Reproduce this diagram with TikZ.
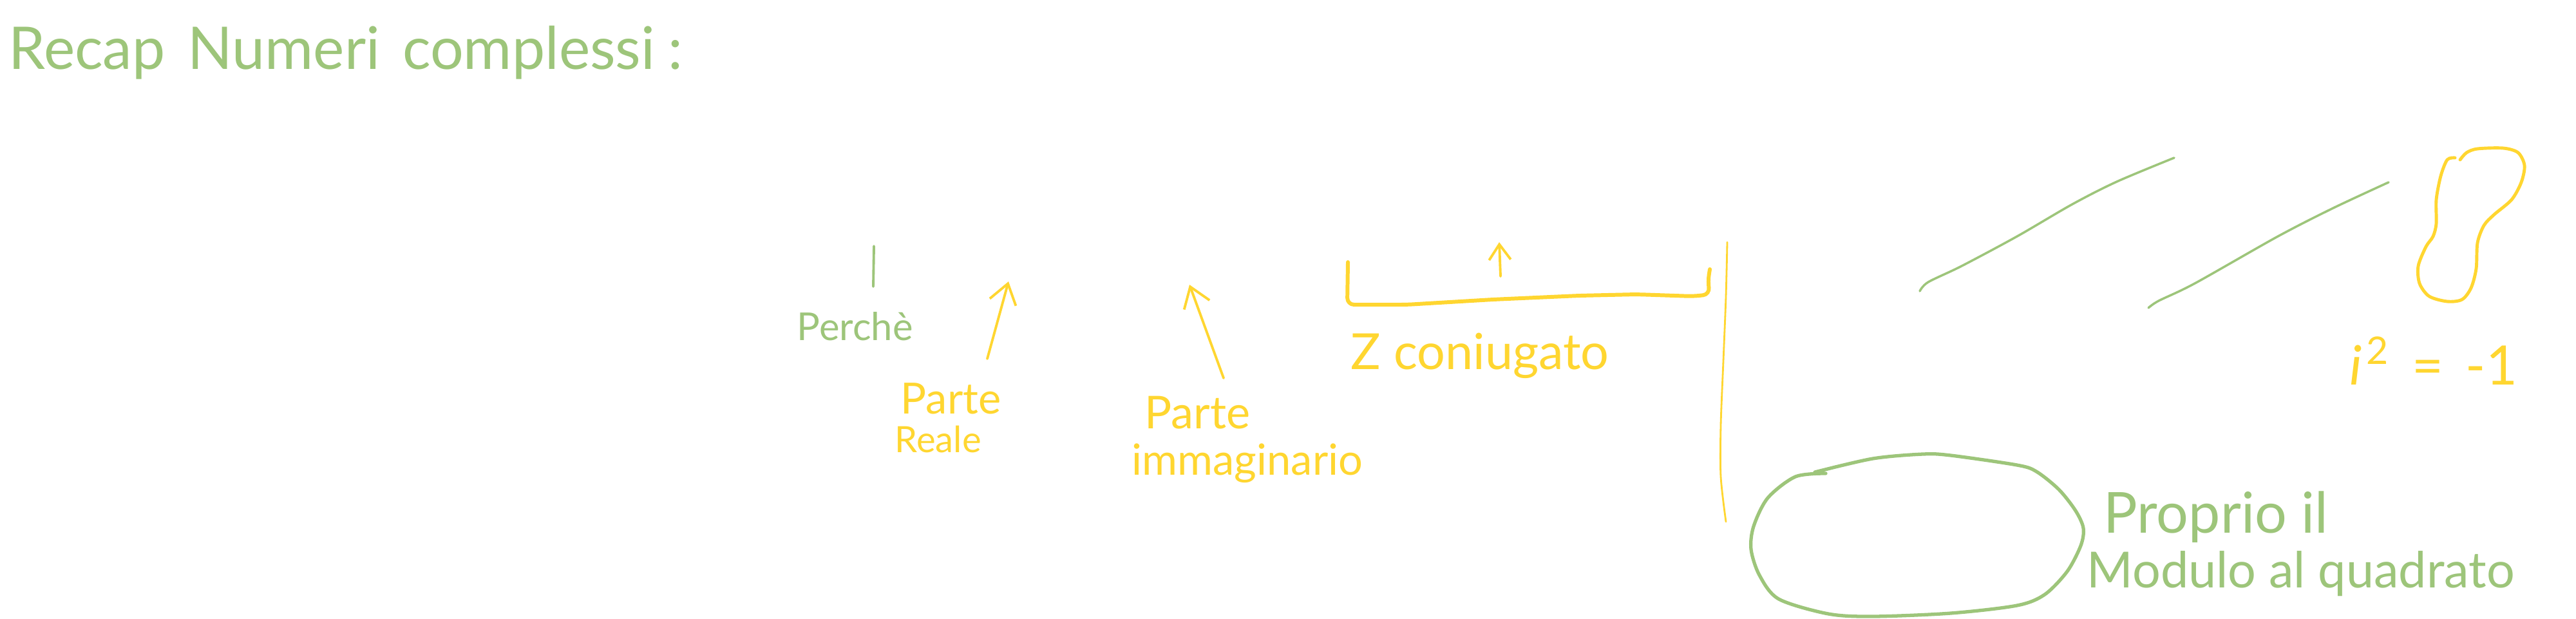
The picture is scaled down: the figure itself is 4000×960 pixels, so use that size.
\documentclass[tikz,border=0pt]{standalone}
\usepackage{fontspec}
\setmainfont{Lato}
\usetikzlibrary{arrows.meta}
\definecolor{pengreen}{RGB}{157,197,122}
\definecolor{penyellow}{RGB}{255,214,48}

\begin{document}
\begin{tikzpicture}[
  x=0.1mm,y=-0.1mm,
  hw/.style={font=\fontsize{#1}{#1}\selectfont,inner sep=0pt,anchor=base west},
  grn/.style={text=pengreen},
  ylw/.style={text=penyellow},
  ink/.style={line width=#1,line cap=round,line join=round},
  yarr/.style={draw=penyellow,line width=1.1pt,line cap=round,
    -{Straight Barb[length=#1,width=1.4*#1]}}
]
\useasboundingbox[fill=white] (0,0) rectangle (4000,960);

% ================= title =================
\node[hw=26,grn] (title) at (13,107)
  {Recap\hspace{3.5mm}Numeri\hspace{3.5mm}complessi\hspace{2mm}:};

% ================= why / real and imaginary parts =================
\draw[pengreen,ink=1.1pt] (1357,382) -- (1356,445);
\node[hw=17,grn] (perche) at (1237,528) {Perchè};

\node[hw=19,ylw] (parteRe) at (1398,642) {Parte};
\node[hw=16,ylw] (reale)   at (1389,702) {Reale};
\coordinate (reTail) at (1533,557);
\coordinate (reTip)  at (1566,437);
\draw[yarr=3mm] (reTail) -- (reTip);

\node[hw=20,ylw] (parteIm) at (1777,665) {Parte};
\node[hw=19,ylw] (immag)   at (1757,737) {immaginario};
\coordinate (imTail) at (1900,587);
\coordinate (imTip)  at (1847,442);
\draw[yarr=3mm] (imTail) -- (imTip);

% ================= conjugate =================
\draw[penyellow,ink=1.7pt,rounded corners=3pt]
  (2093,407) -- (2092,473) -- (2184,473) -- (2318,465) -- (2452,459)
  -- (2541,457) -- (2630,460) -- (2655,457) -- (2652,437) -- (2655,418);
\coordinate (cjTail) at (2330,429);
\coordinate (cjTip)  at (2328,376);
\draw[yarr=2.4mm] (cjTail) -- (cjTip);
\node[hw=22,ylw] (zconj) at (2097,573) {Z\hspace{2mm}coniugato};

\draw[penyellow,ink=0.8pt] plot[smooth] coordinates
  {(2682,376) (2680,460) (2676,560) (2672,660) (2672,740) (2680,810)};

% ================= strokes on the right =================
\draw[pengreen,ink=1pt] plot[smooth] coordinates
  {(2981,452) (2994,438) (3046,413) (3132,367) (3218,317) (3287,282) (3376,245)};
\draw[pengreen,ink=1pt] plot[smooth] coordinates
  {(3336,478) (3352,467) (3408,440) (3537,367) (3623,323) (3709,283)};

\draw[penyellow,ink=1.4pt] plot[smooth] coordinates
  {(3812,245) (3800,248) (3790,273) (3783,310) (3783,347) (3778,367)
   (3767,383) (3755,413) (3757,440) (3772,460) (3800,468) (3823,465)
   (3837,447) (3845,417) (3847,377) (3857,350) (3873,333) (3900,310)
   (3915,283) (3920,257) (3910,237) (3887,230) (3847,231) (3830,237) (3820,248)};

\node[hw=24,ylw] (isq) at (3648,597)
  {\itshape i\upshape\hspace{0.6mm}\textsuperscript{2}\hspace{3.5mm}=\hspace{3.5mm}-1};

% ================= modulus =================
\draw[pengreen,ink=1.5pt] plot[smooth] coordinates
  {(2835,735) (2788,740) (2745,773) (2723,817) (2719,853) (2732,893)
   (2762,930) (2839,953) (2908,957) (3029,952) (3132,940) (3175,923)
   (3210,887) (3231,847) (3235,820) (3223,793) (3197,760) (3162,732)
   (3132,722) (3029,707) (2986,705) (2908,712) (2818,733)};

\node[hw=25,grn] (proprio) at (3266,827) {Proprio il};
\node[hw=22,grn] (modulo)  at (3240,912) {Modulo al quadrato};

\end{tikzpicture}
\end{document}
